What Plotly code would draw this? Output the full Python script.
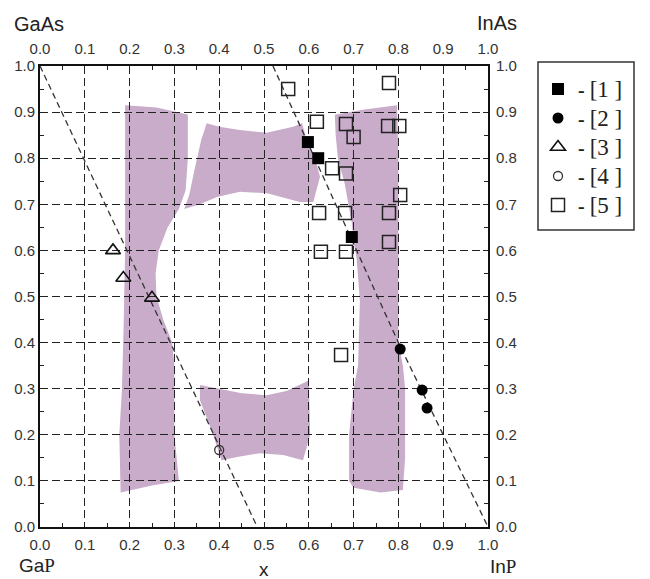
import plotly.graph_objects as go

# ---- data ----
tick_vals = [0.0, 0.1, 0.2, 0.3, 0.4, 0.5, 0.6, 0.7, 0.8, 0.9, 1.0]
tick_text = ["0.0", "0.1", "0.2", "0.3", "0.4", "0.5", "0.6", "0.7", "0.8", "0.9", "1.0"]

# [1] filled squares
s1_x = [0.598, 0.621, 0.696]
s1_y = [0.835, 0.800, 0.629]
# [2] filled circles
s2_x = [0.804, 0.853, 0.864]
s2_y = [0.386, 0.297, 0.258]
# [3] open triangles
s3_x = [0.163, 0.186, 0.250]
s3_y = [0.600, 0.540, 0.497]
# [4] open circle
s4_x = [0.400]
s4_y = [0.167]
# [5] open squares
s5_x = [0.554, 0.779, 0.618, 0.683, 0.700, 0.777, 0.802, 0.652, 0.683, 0.804,
        0.623, 0.681, 0.779, 0.779, 0.627, 0.683, 0.672]
s5_y = [0.950, 0.963, 0.879, 0.874, 0.846, 0.870, 0.870, 0.778, 0.767, 0.720,
        0.681, 0.681, 0.681, 0.618, 0.597, 0.597, 0.373]

legend_names = ["[1\u00a0]", "[2\u00a0]", "[3\u00a0]", "[4\u00a0]", "[5\u00a0]"]

# dashed lines
line1_x = [0.0, 0.485]
line1_y = [1.0, 0.0]
line2_x = [0.52, 0.80, 1.0]
line2_y = [1.0, 0.40, 0.0]

# shaded (miscibility-gap) regions
regA_x = [0.19, 0.26, 0.33, 0.33, 0.325, 0.31, 0.285, 0.265, 0.258, 0.26, 0.275, 0.295,
          0.30, 0.30, 0.30, 0.31, 0.25, 0.18, 0.177, 0.183, 0.187, 0.19, 0.19]
regA_y = [0.915, 0.91, 0.895, 0.80, 0.73, 0.69, 0.65, 0.60, 0.55, 0.50, 0.45, 0.40,
          0.35, 0.30, 0.20, 0.10, 0.09, 0.075, 0.20, 0.30, 0.45, 0.60, 0.80]

regB_x = [0.372, 0.40, 0.446, 0.506, 0.565, 0.585, 0.595, 0.614, 0.625, 0.61, 0.58,
          0.507, 0.446, 0.395, 0.357, 0.322, 0.333, 0.346, 0.36]
regB_y = [0.876, 0.868, 0.861, 0.855, 0.868, 0.876, 0.84, 0.80, 0.76, 0.705, 0.705,
          0.724, 0.727, 0.716, 0.70, 0.69, 0.72, 0.78, 0.84]

regC_x = [0.658, 0.72, 0.797, 0.80, 0.80, 0.80, 0.81, 0.815, 0.815, 0.81, 0.76, 0.70,
          0.69, 0.69, 0.70, 0.71, 0.714, 0.707, 0.70, 0.696, 0.68, 0.665, 0.66]
regC_y = [0.894, 0.905, 0.915, 0.80, 0.60, 0.40, 0.35, 0.30, 0.15, 0.08, 0.075, 0.085,
          0.10, 0.20, 0.30, 0.35, 0.49, 0.58, 0.62, 0.66, 0.745, 0.80, 0.85]

regD_x = [0.357, 0.40, 0.45, 0.506, 0.55, 0.60, 0.603, 0.587, 0.543, 0.49, 0.44, 0.405,
          0.383, 0.357]
regD_y = [0.308, 0.30, 0.29, 0.286, 0.295, 0.318, 0.20, 0.145, 0.156, 0.16, 0.152, 0.145,
          0.21, 0.275]

region_color = "#c9abca"

# ---- layout geometry (pixels) ----
W, H = 650, 579
L, R, T, B = 40, 488, 66, 527


def px_x(p):
    return (p - L) / (R - L)


def px_y(p):
    return (B - p) / (B - T)


fig = go.Figure()


def poly_path(xs, ys):
    pts = ["{} {},{}".format("M" if i == 0 else "L", x, y) for i, (x, y) in enumerate(zip(xs, ys))]
    return " ".join(pts) + " Z"


for rx, ry in [(regA_x, regA_y), (regB_x, regB_y), (regC_x, regC_y), (regD_x, regD_y)]:
    fig.add_shape(type="path", path=poly_path(rx, ry), xref="x", yref="y",
                  fillcolor=region_color, line=dict(width=0), layer="below")

for lx, ly in [(line1_x, line1_y), (line2_x, line2_y)]:
    fig.add_trace(go.Scatter(x=lx, y=ly, mode="lines", showlegend=False, hoverinfo="skip",
                             line=dict(color="#333333", width=1.3, dash="6px,4px")))


def lname(s):
    return "<b>-</b> <span style='font-size:23px'>" + s + "</span>"


fig.add_trace(go.Scatter(x=s1_x, y=s1_y, mode="markers", name=lname(legend_names[0]),
                         marker=dict(symbol="square", size=12, color="black")))
fig.add_trace(go.Scatter(x=s2_x, y=s2_y, mode="markers", name=lname(legend_names[1]),
                         marker=dict(symbol="circle", size=11, color="black")))
fig.add_trace(go.Scatter(x=s3_x, y=s3_y, mode="markers", name=lname(legend_names[2]),
                         marker=dict(symbol="triangle-up-open", size=13, color="#111",
                                     line=dict(width=1.6))))
fig.add_trace(go.Scatter(x=s4_x, y=s4_y, mode="markers", name=lname(legend_names[3]),
                         marker=dict(symbol="circle-open", size=9, color="#333",
                                     line=dict(width=1.3))))
fig.add_trace(go.Scatter(x=s5_x, y=s5_y, mode="markers", name=lname(legend_names[4]),
                         marker=dict(symbol="square-open", size=13, color="#222",
                                     line=dict(width=1.5))))

# helper trace for the top / right axes
fig.add_trace(go.Scatter(x=[0.5], y=[0.5], xaxis="x2", yaxis="y2", mode="markers",
                         marker=dict(opacity=0), showlegend=False, hoverinfo="skip"))

tick_font = dict(family="Liberation Sans, Arial", size=15, color="#333333")
common = dict(range=[0, 1], tickmode="array", tickvals=tick_vals, ticktext=tick_text,
              ticks="inside", ticklen=5, tickcolor="#222", tickwidth=1.2,
              minor=dict(ticks="inside", ticklen=4, dtick=0.05, tickcolor="#222", tickwidth=1.2),
              showline=True, linecolor="#111", linewidth=2, zeroline=False,
              tickfont=tick_font, fixedrange=True)

grid = dict(showgrid=True, gridcolor="#222222", gridwidth=1.3, griddash="8px,4px")

fig.update_layout(
    width=W, height=H,
    margin=dict(l=L, r=W - R, t=T, b=H - B),
    paper_bgcolor="white", plot_bgcolor="white",
    xaxis=dict(**common, **grid, side="bottom", ticklabelstandoff=3),
    yaxis=dict(**common, **grid, side="left"),
    xaxis2=dict(**common, showgrid=False, side="top", overlaying="x", anchor="y",
                ticklabelstandoff=4),
    yaxis2=dict(**common, showgrid=False, side="right", overlaying="y", anchor="x",
                ticklabelstandoff=3),
    legend=dict(x=px_x(538), xanchor="left", y=px_y(69.5), yanchor="top",
                borderwidth=0, bgcolor="rgba(0,0,0,0)",
                font=dict(family="Liberation Serif, Times New Roman", size=20, color="#222")),
    showlegend=True,
)

# legend frame
fig.add_shape(type="rect", xref="paper", yref="paper",
              x0=px_x(538), x1=px_x(634), y0=px_y(230), y1=px_y(62),
              line=dict(color="#333", width=1.5), fillcolor="rgba(0,0,0,0)", layer="above")

label_font = dict(family="Liberation Sans, Arial", size=20, color="#222")
corner_font = dict(family="Liberation Sans, Arial", size=19, color="#222")
serif_p = "<span style='font-family:Liberation Serif'>P</span>"
fig.add_annotation(text="GaAs", x=px_x(39), y=px_y(24), xref="paper", yref="paper",
                   showarrow=False, font=label_font, xanchor="center", yanchor="middle")
fig.add_annotation(text="InAs", x=px_x(497), y=px_y(23), xref="paper", yref="paper",
                   showarrow=False, font=label_font, xanchor="center", yanchor="middle")
fig.add_annotation(text="Ga" + serif_p, x=px_x(37), y=px_y(565), xref="paper", yref="paper",
                   showarrow=False, font=corner_font, xanchor="center", yanchor="middle",
                   borderpad=0)
fig.add_annotation(text="In" + serif_p, x=px_x(503), y=px_y(566), xref="paper", yref="paper",
                   showarrow=False, font=corner_font, xanchor="center", yanchor="middle",
                   borderpad=0)
fig.add_annotation(text="x", x=px_x(264), y=px_y(569), xref="paper", yref="paper",
                   showarrow=False, font=dict(family="Liberation Sans, Arial", size=19, color="#222"),
                   xanchor="center", yanchor="middle", borderpad=0)

fig.write_html("out.html", config={"displayModeBar": False},
               post_script="document.body.style.margin='0px';document.body.style.overflow='hidden';")
